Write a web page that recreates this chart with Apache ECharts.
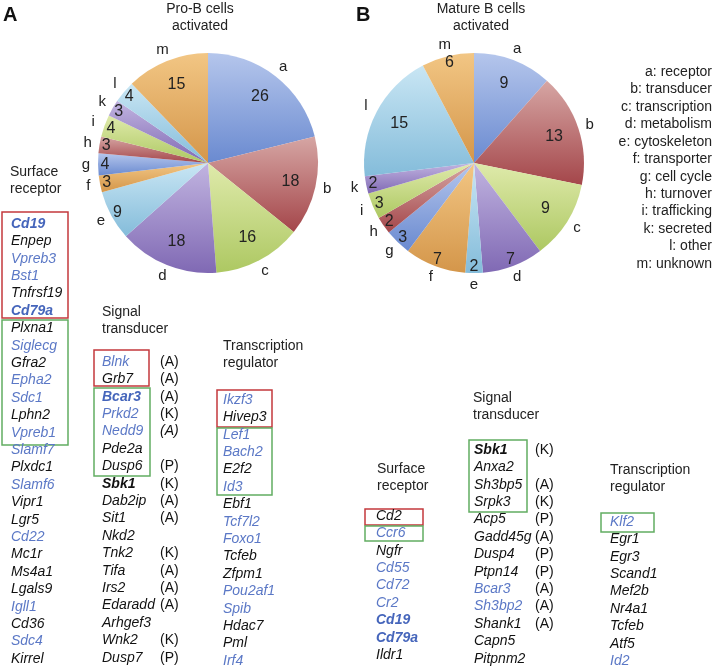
<!DOCTYPE html>
<html><head><meta charset="utf-8">
<script src="https://cdn.jsdelivr.net/npm/echarts@6/dist/echarts.min.js"></script>
<style>html,body{margin:0;padding:0;background:#fff}#c{width:714px;height:671px}</style>
</head><body><div id="c"></div>
<script>
// ---- data ----
const categories = ['a','b','c','d','e','f','g','h','i','k','l','m'];
const categoryNames = ['receptor','transducer','transcription','metabolism','cytoskeleton','transporter','cell cycle','turnover','trafficking','secreted','other','unknown'];
const proBValues = [26,18,16,18,9,3,4,3,4,3,4,15];
const matureBValues = [9,13,9,7,2,7,3,2,3,2,15,6];

const surfaceA = ['Cd19','Enpep','Vpreb3','Bst1','Tnfrsf19','Cd79a','Plxna1','Siglecg','Gfra2','Epha2','Sdc1','Lphn2','Vpreb1','Slamf7','Plxdc1','Slamf6','Vipr1','Lgr5','Cd22','Mc1r','Ms4a1','Lgals9','Igll1','Cd36','Sdc4','Kirrel'];
const surfaceAStyle = 'BkbbkBkbkbbkbbkbkkbkkkbkbk';
const signalA = ['Blnk','Grb7','Bcar3','Prkd2','Nedd9','Pde2a','Dusp6','Sbk1','Dab2ip','Sit1','Nkd2','Tnk2','Tifa','Irs2','Edaradd','Arhgef3','Wnk2','Dusp7'];
const signalAStyle = 'bkBbbkkKkkkkkkkkkk';
const signalANote = ['A','A','A','K','A*','','P','K','A','A','','K','A','A','A','','K','P'];
const transA = ['Ikzf3','Hivep3','Lef1','Bach2','E2f2','Id3','Ebf1','Tcf7l2','Foxo1','Tcfeb','Zfpm1','Pou2af1','Spib','Hdac7','Pml','Irf4'];
const transAStyle = 'bkbbkbkbbkkbbkkb';
const surfaceB = ['Cd2','Ccr6','Ngfr','Cd55','Cd72','Cr2','Cd19','Cd79a','Ildr1'];
const surfaceBStyle = 'kbkbbbBBk';
const signalB = ['Sbk1','Anxa2','Sh3bp5','Srpk3','Acp5','Gadd45g','Dusp4','Ptpn14','Bcar3','Sh3bp2','Shank1','Capn5','Pitpnm2'];
const signalBStyle = 'Kkkkkkkkbbkkk';
const signalBNote = ['K','','A','K','P','A','P','P','A','A','A','',''];
const transB = ['Klf2','Egr1','Egr3','Scand1','Mef2b','Nr4a1','Tcfeb','Atf5','Id2'];
const transBStyle = 'bkkkkkkkb';

// ---- styles ----
const FONT = '"Liberation Sans", Arial, Helvetica, sans-serif';
const palette = [
  ['#b5c6ec','#6a8ad0'],
  ['#d6a6a4','#a4464a'],
  ['#dfeaab','#adc862'],
  ['#c1b4e0','#8069b4'],
  ['#c9e6f4','#84bcda'],
  ['#f2c684','#d4964a']
];
function grad(i){
  const p = palette[i % palette.length];
  return {type:'linear',x:0,y:0,x2:0,y2:1,colorStops:[{offset:0,color:p[0]},{offset:1,color:p[1]}]};
}
const R = 110;

function pieSet(center, values){
  const total = values.reduce((s,v)=>s+v,0);
  const data = values.map((v,i)=>({name:categories[i], value:v, itemStyle:{color:grad(i)}}));
  const plain = values.map((v,i)=>({name:categories[i], value:v}));
  const base = {type:'pie', center:center, startAngle:90, clockwise:true, animation:false,
    avoidLabelOverlap:false, labelLine:{show:false}, emphasis:{disabled:true}, silent:true};
  return [
    Object.assign({}, base, {radius:R, data:data, label:{show:false}, itemStyle:{borderWidth:0}}),
    Object.assign({}, base, {radius:[R*0.62, R*0.86], data:plain, itemStyle:{color:'rgba(0,0,0,0)'},
      label:{show:true, position:'inside', fontFamily:FONT, fontSize:16, color:'#222',
        formatter:p=> p.value/total > 0.1 ? String(p.value) : ''}}),
    Object.assign({}, base, {radius:[R*0.84, R*0.98], data:plain, itemStyle:{color:'rgba(0,0,0,0)'},
      label:{show:true, position:'inside', fontFamily:FONT, fontSize:16, color:'#222',
        formatter:p=> p.value/total > 0.1 ? '' : String(p.value)}}),
    Object.assign({}, base, {radius:[R+3, R+15], data:plain, itemStyle:{color:'rgba(0,0,0,0)'},
      label:{show:true, position:'inside', fontFamily:FONT, fontSize:15, color:'#222',
        formatter:p=>p.name}})
  ];
}

const BLUE = '#5b78c6', BLUE_B = '#4565bb', BLACK = '#111';
const LH = 17.4;
const graphics = [];
function txt(x,y,text,opts){
  opts = opts || {};
  graphics.push({type:'text', silent:true, style:{x:x, y:y, text:text,
    font:(opts.font||('14px '+FONT)), fill:opts.fill||'#222',
    align:opts.align||'left', verticalAlign:'middle'}});
}
function box(x1,y1,x2,y2,color){
  graphics.push({type:'rect', silent:true, shape:{x:x1,y:y1,width:x2-x1,height:y2-y1},
    style:{fill:'none', stroke:color, lineWidth:1.5}});
}
function column(x, y0, genes, styles, notes, noteX){
  genes.forEach((g,i)=>{
    const s = styles[i];
    const blue = (s==='b'||s==='B'), bold = (s==='B'||s==='K');
    txt(x, y0 + i*LH, g, {fill: blue ? (bold?BLUE_B:BLUE) : BLACK,
      font:'italic '+(bold?'bold ':'')+'14px '+FONT});
    if (notes && notes[i]) {
      const it = notes[i].endsWith('*');
      txt(noteX, y0 + i*LH, '('+notes[i].replace('*','')+')', {fill:BLACK, font:(it?'italic ':'')+'14px '+FONT});
    }
  });
}
function header(x,y,l1,l2){ txt(x,y,l1,{fill:'#222'}); txt(x,y+17,l2,{fill:'#222'}); }

// panel letters and titles
txt(3,15,'A',{font:'bold 20px '+FONT, fill:'#111'});
txt(356,15,'B',{font:'bold 20px '+FONT, fill:'#111'});
txt(200,9,'Pro-B cells',{align:'center'}); txt(200,26,'activated',{align:'center'});
txt(481,9,'Mature B cells',{align:'center'}); txt(481,26,'activated',{align:'center'});
// legend
categories.forEach((c,i)=>{ txt(712, 72 + i*17.45, c+': '+categoryNames[i], {align:'right'}); });

// columns A
header(10,172,'Surface','receptor');
box(2,212,68,318,'#c4393d'); box(2,320,68,445,'#62ad62');
column(11,224,surfaceA,surfaceAStyle);
header(102,312,'Signal','transducer');
box(94,350,149,386,'#c4393d'); box(94,388,150,476,'#62ad62');
column(102,362,signalA,signalAStyle,signalANote,160);
header(223,346,'Transcription','regulator');
box(217,390,272,427,'#c4393d'); box(217,428,272,495,'#62ad62');
column(223,400,transA,transAStyle);
// columns B
header(377,469,'Surface','receptor');
box(365,509,423,525,'#c4393d'); box(365,526,423,541,'#62ad62');
column(376,516,surfaceB,surfaceBStyle);
header(473,398,'Signal','transducer');
box(469,440,527,512,'#62ad62');
column(474,450,signalB,signalBStyle,signalBNote,535);
header(610,470,'Transcription','regulator');
box(601,513,654,532,'#62ad62');
column(610,522,transB,transBStyle);

const chart = echarts.init(document.getElementById('c'), null, {renderer:'canvas'});
chart.setOption({
  animation:false,
  backgroundColor:'#fff',
  series: [].concat(pieSet([208,163], proBValues), pieSet([474,163], matureBValues)),
  graphic: graphics
});
</script></body></html>
